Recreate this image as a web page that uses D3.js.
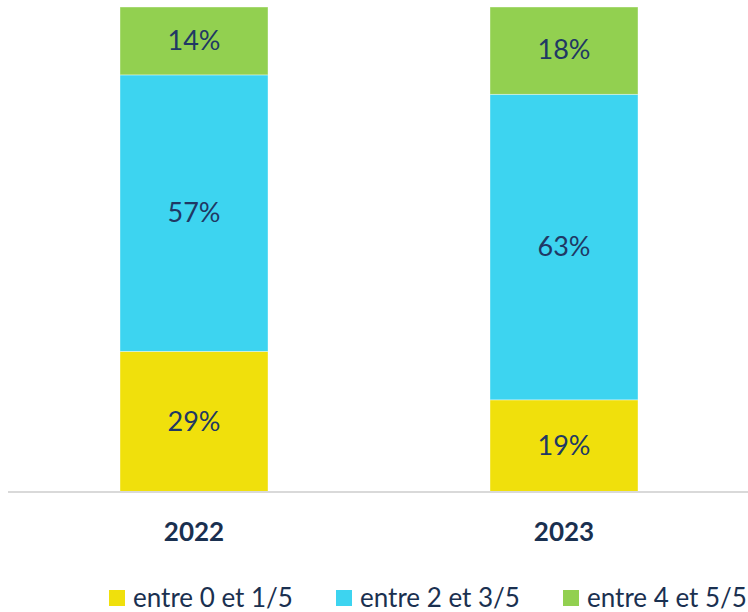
<!DOCTYPE html>
<html>
<head>
<meta charset="utf-8">
<script src="https://cdn.jsdelivr.net/npm/d3@7"></script>
<style>
  body { margin: 0; background: #fff; }
  svg { font-family: Lato, "Open Sans", sans-serif; display: block; }
</style>
</head>
<body>
<script>
const width = 748;
const height = 612;

// data
const years = ['2022', '2023'];
const seriesNames = ['entre 0 et 1/5', 'entre 2 et 3/5', 'entre 4 et 5/5'];
const low = [29, 19];   // entre 0 et 1/5
const mid = [57, 63];   // entre 2 et 3/5
const high = [14, 18];  // entre 4 et 5/5
const colors = ['#F0E00C', '#3DD4F0', '#92D050'];

const rows = years.map((y, i) => ({year: y, s0: low[i], s1: mid[i], s2: high[i]}));
const stack = d3.stack().keys(['s0', 's1', 's2'])(rows);

const xScale = d3.scaleBand()
  .domain(years)
  .range([9, 749])
  .paddingInner(0.6)
  .paddingOuter(0.3);
const yScale = d3.scaleLinear()
  .domain([0, 100])
  .range([492, 7]);

const svg = d3.select('body').append('svg')
  .attr('width', width)
  .attr('height', height);

// bars
const layers = svg.selectAll('g.layer')
  .data(stack)
  .enter()
  .append('g')
    .attr('class', 'layer')
    .attr('fill', (d, i) => colors[i]);

layers.selectAll('rect')
  .data(d => d)
  .enter()
  .append('rect')
    .attr('x', d => xScale(d.data.year))
    .attr('y', d => yScale(d[1]))
    .attr('width', xScale.bandwidth())
    .attr('height', d => yScale(d[0]) - yScale(d[1]))
    .attr('stroke', '#ffffff')
    .attr('stroke-opacity', 0.5)
    .attr('stroke-width', 0.75);

// value labels
layers.selectAll('text')
  .data(d => d)
  .enter()
  .append('text')
    .attr('x', d => xScale(d.data.year) + xScale.bandwidth() / 2)
    .attr('y', d => (yScale(d[0]) + yScale(d[1])) / 2 + 2)
    .attr('text-anchor', 'middle')
    .attr('dominant-baseline', 'middle')
    .attr('fill', '#203864')
    .style('font-size', '27px')
    .text(d => (d[1] - d[0]) + '%');

// x axis
const xAxis = d3.axisBottom(xScale).tickSize(0).tickPadding(31);
const gx = svg.append('g')
  .attr('transform', 'translate(0, 492)')
  .call(xAxis);
gx.select('.domain')
  .attr('stroke', '#d9d9d9')
  .attr('stroke-width', 2)
  .attr('d', 'M8,0H748');
gx.selectAll('text')
  .attr('fill', '#1a3050')
  .style('font-family', 'Lato, sans-serif')
  .style('font-size', '26px')
  .style('font-weight', 'bold');

// legend
const legendX = [109, 336, 563];
const legend = svg.selectAll('g.legend')
  .data(seriesNames)
  .enter()
  .append('g')
    .attr('class', 'legend')
    .attr('transform', (d, i) => `translate(${legendX[i]}, 590)`);
legend.append('rect')
  .attr('width', 16)
  .attr('height', 16)
  .attr('fill', (d, i) => colors[i]);
legend.append('text')
  .attr('x', 24)
  .attr('y', 17)
  .attr('fill', '#1a3050')
  .style('font-size', '26px')
  .text(d => d);
</script>
</body>
</html>
